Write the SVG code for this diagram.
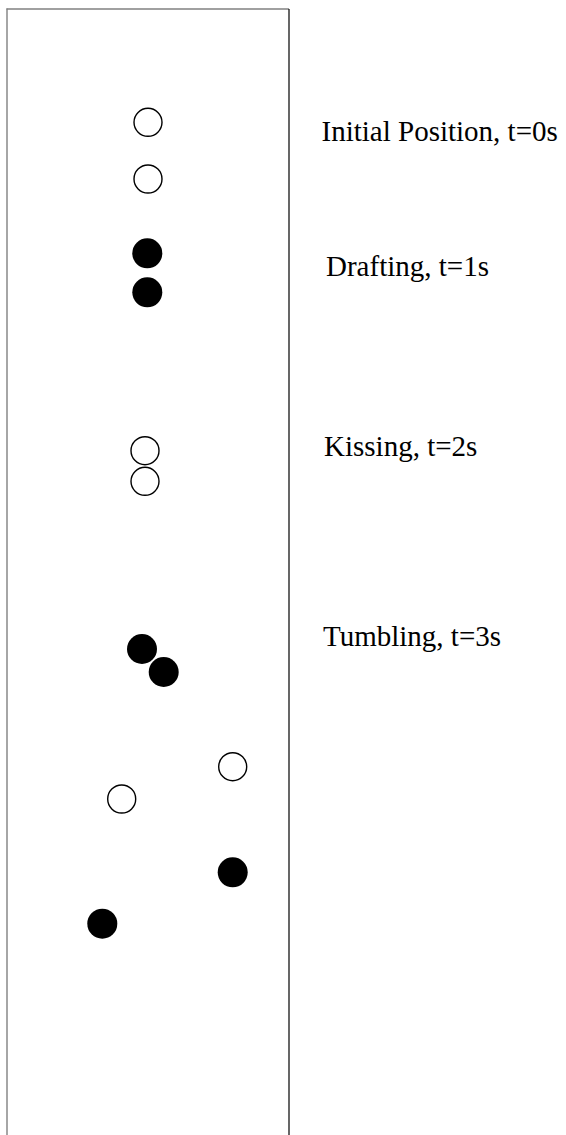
<svg xmlns="http://www.w3.org/2000/svg" width="566" height="1135" viewBox="0 0 566 1135">
  <style>
    .open { fill: #ffffff; stroke: #000000; stroke-width: 1.4; }
    .solid { fill: #000000; stroke: none; }
    .label { font-family: "Liberation Serif", "Times New Roman", serif; font-size: 29px; fill: #000000; }
    .edge-gray { stroke: #808080; stroke-width: 1.4; fill: none; }
    .edge-black { stroke: #000000; stroke-width: 1.2; fill: none; }
  </style>
  <rect x="0" y="0" width="566" height="1135" fill="#ffffff"/>
  <g id="channel">
    <line class="edge-gray" x1="6.5" y1="9" x2="289" y2="9"/>
    <line class="edge-gray" x1="7" y1="8.5" x2="7" y2="1135"/>
    <line class="edge-black" x1="289" y1="9" x2="289" y2="1135"/>
  </g>
  <g id="initial">
    <circle class="open" cx="148" cy="122.3" r="14"/>
    <circle class="open" cx="148" cy="179" r="14"/>
  </g>
  <g id="drafting">
    <circle class="solid" cx="147.3" cy="253.3" r="15"/>
    <circle class="solid" cx="147.3" cy="292.3" r="15"/>
  </g>
  <g id="kissing">
    <circle class="open" cx="145" cy="450.7" r="14"/>
    <circle class="open" cx="145" cy="481.3" r="14"/>
  </g>
  <g id="tumbling">
    <circle class="solid" cx="142" cy="649" r="15"/>
    <circle class="solid" cx="163.7" cy="672" r="15"/>
  </g>
  <g id="later-open">
    <circle class="open" cx="232.7" cy="766.7" r="14"/>
    <circle class="open" cx="121.7" cy="799" r="14"/>
  </g>
  <g id="later-solid">
    <circle class="solid" cx="232.7" cy="872.3" r="15"/>
    <circle class="solid" cx="102.3" cy="923.7" r="15"/>
  </g>
  <g id="labels">
    <text class="label" x="321.5" y="140.5">Initial Position, t=0s</text>
    <text class="label" x="326" y="276">Drafting, t=1s</text>
    <text class="label" x="324" y="456">Kissing, t=2s</text>
    <text class="label" x="323" y="646">Tumbling, t=3s</text>
  </g>
  <g id="connectors"></g>
</svg>
